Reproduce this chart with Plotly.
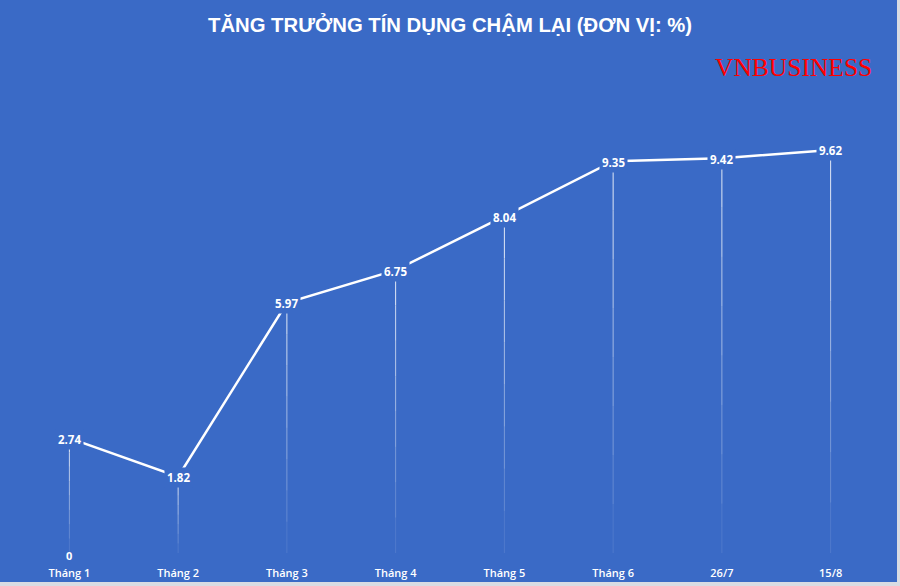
import plotly.graph_objects as go

categories = ["Tháng 1", "Tháng 2", "Tháng 3", "Tháng 4", "Tháng 5", "Tháng 6", "26/7", "15/8"]
growth = [2.74, 1.82, 5.97, 6.75, 8.04, 9.35, 9.42, 9.62]
base_label_value = [0]  # label shown at the baseline under "Tháng 1"

BG = "#3A6AC6"
W, H = 900, 586
ML, MR, MT, MB = 15, 15, 100, 33
PW = W - ML - MR
PH = H - MT - MB
YMAX = PH / 41.9
LABEL_FONT = "Open Sans, Liberation Sans, sans-serif"

fig = go.Figure()

# drop lines (fading toward the bottom)
n_seg = 8
for cat, v in zip(categories, growth):
    for k in range(n_seg):
        y0 = v * (1 - k / n_seg)
        y1 = v * (1 - (k + 1) / n_seg)
        op = 0.85 - 0.75 * (k / (n_seg - 1))
        fig.add_shape(type="line", xref="x", yref="y", x0=cat, x1=cat, y0=y0, y1=y1,
                      line=dict(color="white", width=1), opacity=op, layer="below")

fig.add_trace(go.Scatter(
    x=categories, y=growth, mode="lines",
    line=dict(color="white", width=2.5), hoverinfo="skip", showlegend=False,
))

# data labels centred on points, with background hiding the line
for cat, v in zip(categories, growth):
    fig.add_annotation(x=cat, y=v, xref="x", yref="y", text=f"<b>{v:.2f}</b>",
                       showarrow=False, bgcolor=BG, borderpad=2, yshift=-1,
                       font=dict(family=LABEL_FONT, size=11.5, color="white"))

fig.add_annotation(x=categories[0], y=base_label_value[0], xref="x", yref="y",
                   text=f"<b>{base_label_value[0]}</b>", showarrow=False, yshift=-2,
                   font=dict(family=LABEL_FONT, size=11, color="white"))

# title
fig.add_annotation(x=0.5, y=(H - MB - 24) / PH, xref="paper", yref="paper",
                   text="<b>TĂNG TRƯỞNG TÍN DỤNG CHẬM LẠI (ĐƠN VỊ: %)</b>",
                   showarrow=False, font=dict(family="Liberation Sans, Arial, sans-serif", size=20.3, color="white"),
                   xanchor="center", yanchor="middle")
# brand
fig.add_annotation(x=(874 - ML) / PW, y=(H - MB - 67) / PH, xref="paper", yref="paper", text="VNBUSINESS",
                   showarrow=False, xanchor="right", yanchor="middle",
                   font=dict(family="Liberation Serif, Times New Roman, serif", size=25.5, color="#FF0000"))

# frame edges (light strip right and bottom)
fig.add_shape(type="rect", xref="paper", yref="paper",
              x0=(897 - ML) / PW, x1=(W - ML) / PW + 0.01, y0=-MB / PH - 0.01, y1=(H - MB) / PH + 0.01,
              fillcolor="#D9DCE3", line=dict(width=0), layer="above")
fig.add_shape(type="rect", xref="paper", yref="paper",
              x0=-ML / PW - 0.01, x1=(W - ML) / PW + 0.01, y0=-MB / PH - 0.01, y1=-(582 - (H - MB)) / PH,
              fillcolor="#D9DCE3", line=dict(width=0), layer="above")

fig.update_layout(
    width=W, height=H,
    margin=dict(l=ML, r=MR, t=MT, b=MB, autoexpand=False),
    paper_bgcolor=BG, plot_bgcolor=BG,
    showlegend=False,
    xaxis=dict(type="category", categoryarray=categories, range=[-0.5, len(categories) - 0.5],
               showgrid=False, zeroline=False, showline=False, ticks="", automargin=False,
               tickfont=dict(family=LABEL_FONT, size=11, color="white", weight=600),
               ticklabelstandoff=12, fixedrange=True),
    yaxis=dict(range=[0, YMAX], visible=False, showgrid=False, zeroline=False, fixedrange=True,
               automargin=False),
)

fig.write_html("out.html", config={"displayModeBar": False},
               post_script="document.body.style.margin='0';document.body.style.overflow='hidden';")
